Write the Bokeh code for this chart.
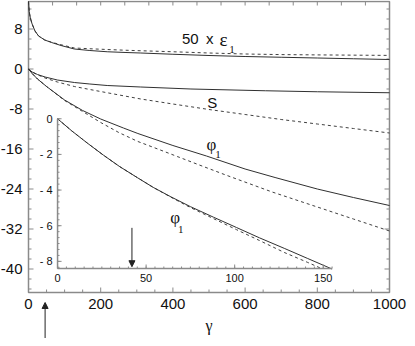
import numpy as np
from bokeh.plotting import figure
from bokeh.models import Range1d, Label, Arrow, NormalHead
from bokeh.embed import file_html
from bokeh.resources import INLINE
from bokeh.core.properties import value

# ---------------- data ----------------
# 50 x epsilon_1
eps_g_solid = [0, 2, 5, 10, 18, 28, 45, 64, 90, 127, 170, 218, 270, 311, 400, 500, 600, 700, 800, 900, 1000]
eps_solid = [13.5, 11.5, 10.2, 9.0, 7.6, 6.6, 5.8, 5.3, 4.7, 4.0, 3.7, 3.45, 3.3, 3.2, 2.95, 2.7, 2.5, 2.35, 2.2, 2.05, 1.9]
eps_g_dash = [0, 2, 5, 10, 18, 28, 45, 64, 90, 127, 170, 218, 270, 311, 400, 500, 600, 700, 800, 900, 1000]
eps_dash = [13.5, 11.5, 10.2, 9.0, 7.6, 6.6, 5.8, 5.35, 4.85, 4.2, 4.05, 3.9, 3.75, 3.65, 3.45, 3.2, 3.0, 2.88, 2.82, 2.77, 2.72]

# S
s_g_solid = [0, 5, 10, 25, 46, 80, 127, 170, 218, 311, 450, 656, 800, 1000]
s_solid = [0, -0.3, -0.6, -1.1, -1.6, -2.2, -2.7, -3.0, -3.3, -3.6, -4.0, -4.35, -4.55, -4.75]
s_g_dash = [0, 5, 10, 25, 46, 80, 127, 170, 218, 311, 400, 500, 600, 700, 800, 900, 1000]
s_dash = [0, -0.3, -0.6, -1.15, -1.8, -2.6, -3.5, -4.1, -4.75, -6.0, -7.0, -8.1, -9.1, -10.1, -11.0, -11.9, -12.8]

# phi_1 (main)
phi_g_solid = [0, 10, 25, 50, 100, 150, 200, 263, 303, 400, 493, 600, 683, 800, 900, 1000]
phi_solid = [0, -0.9, -2.0, -3.5, -6.2, -8.3, -10.0, -11.8, -12.9, -15.3, -17.4, -20.0, -21.7, -24.0, -25.7, -27.3]
phi_g_dash = [0, 10, 25, 50, 100, 150, 200, 250, 303, 358, 412, 466, 550, 675, 800, 900, 1000]
phi_dash = [0, -0.9, -2.0, -3.5, -6.3, -8.5, -10.7, -12.7, -14.5, -16.0, -17.5, -19.0, -21.3, -24.6, -27.6, -30.0, -32.4]

# phi_1 (inset)
in_g_solid = [0, 8, 17, 26, 35, 45, 54, 64, 75, 88, 101, 114, 128, 141, 155]
in_solid = [0, -0.68, -1.38, -2.05, -2.68, -3.3, -3.85, -4.38, -4.93, -5.52, -6.1, -6.68, -7.27, -7.83, -8.43]
in_g_dash = [0, 8, 17, 26, 35, 45, 54, 64, 75, 88, 101, 114, 128, 141, 149]
in_dash = [0, -0.68, -1.38, -2.05, -2.68, -3.3, -3.85, -4.4, -4.98, -5.6, -6.22, -6.83, -7.5, -8.05, -8.4]

# ticks
x_major = [0, 200, 400, 600, 800, 1000]
x_labels = ["0", "200", "400", "600", "800", "1000"]
y_major = [8, 0, -8, -16, -24, -32, -40]
y_labels = ["8", "0", "-8", "-16", "-24", "-32", "-40"]
in_x_major = [0, 50, 100, 150]
in_x_labels = ["0", "50", "100", "150"]
in_y_major = [0, -2, -4, -6, -8]
in_y_labels = ["0", "- 2", "- 4", "- 6", "- 8"]

arrow_gamma_main = 46
arrow_gamma_inset = 42

# ---------------- layout ----------------
W, H = 407, 338
FL, FR, FT, FB = 28, 389, 1, 292          # pixel box of the main axes
X0, X1 = 0, 1000
Y0, Y1 = -44.7, 13.5
IN_X = (0, 155)
IN_Y = (-8.4, 0)
IN_MAIN_X = (80.5, 841.0)                  # inset box in main-data coordinates
IN_MAIN_Y = (-39.9, -9.95)

kx = (FR - FL) / (X1 - X0)
ky = (FB - FT) / (Y1 - Y0)
XR = (X0 - FL / kx, X1 + (W - FR) / kx)
YR = (Y0 - (H - FB) / ky, Y1 + FT / ky)

p = figure(width=W, height=H, output_backend="svg", toolbar_location=None,
           x_range=Range1d(*XR), y_range=Range1d(*YR),
           x_axis_location=None, y_axis_location=None, min_border=0)
p.grid.visible = False
p.outline_line_color = None
p.background_fill_color = "white"
p.border_fill_color = "white"

bx = (IN_MAIN_X[1] - IN_MAIN_X[0]) / (IN_X[1] - IN_X[0])
by = (IN_MAIN_Y[1] - IN_MAIN_Y[0]) / (IN_Y[1] - IN_Y[0])
p.extra_x_ranges = {"inset": Range1d(IN_X[0] + (XR[0] - IN_MAIN_X[0]) / bx,
                                     IN_X[0] + (XR[1] - IN_MAIN_X[0]) / bx)}
p.extra_y_ranges = {"inset": Range1d(IN_Y[0] + (YR[0] - IN_MAIN_Y[0]) / by,
                                     IN_Y[0] + (YR[1] - IN_MAIN_Y[0]) / by)}

AX = "#8a8a8a"
INK = "#111111"
FONT = "Liberation Sans"
SERIF = "Liberation Serif"
SOLID = "#303030"
DASH = "#404040"

# ---- main axes box, ticks and labels ----
p.quad(left=[X0], right=[X1], bottom=[Y0], top=[Y1], fill_color=None,
       line_color=AX, line_width=1.5)

x_minor = [v for v in np.arange(X0, X1 + 1, 50) if v not in x_major]
x_top = list(np.arange(X0, X1 + 1, 200 / 3))
y_minor = [v for v in np.arange(-44, Y1, 2) if v not in y_major]


def ticks(xs, ys, length, angle, **kw):
    p.ray(x=xs, y=ys, length=length, angle=angle, length_units="screen",
          line_color=AX, line_width=1, **kw)


ticks(x_major, [Y0] * len(x_major), 5, np.pi / 2)
ticks(x_minor, [Y0] * len(x_minor), 3, np.pi / 2)
ticks(x_top, [Y1] * len(x_top), 4, -np.pi / 2)
ticks([X0] * len(y_major), y_major, 5, 0)
ticks([X0] * len(y_minor), y_minor, 3, 0)
ticks([X1] * len(y_major), y_major, 5, np.pi)
ticks([X1] * len(y_minor), y_minor, 3, np.pi)

p.text(x=x_major, y=[Y0] * len(x_major), text=x_labels, text_align="center",
       text_baseline="top", y_offset=6, text_font=value(FONT), text_font_size="15px",
       text_color=INK)
p.text(x=[X0] * len(y_major), y=y_major, text=y_labels, text_align="right",
       text_baseline="middle", x_offset=-6, text_font=value(FONT), text_font_size="15px",
       text_color=INK)
p.text(x=[(X0 + X1) / 2], y=[Y0], text=["γ"], text_align="center",
       text_baseline="alphabetic", y_offset=33, text_font=value(SERIF),
       text_font_size="16px", text_color=INK)

# ---- main curves ----
p.line(eps_g_dash, eps_dash, line_color=DASH, line_width=1, line_dash="3 3")
p.line(eps_g_solid, eps_solid, line_color=SOLID, line_width=1)
p.line(s_g_dash, s_dash, line_color=DASH, line_width=1, line_dash="3 3")
p.line(s_g_solid, s_solid, line_color=SOLID, line_width=1)
p.line(phi_g_dash, phi_dash, line_color=DASH, line_width=1, line_dash="3 3")
p.line(phi_g_solid, phi_solid, line_color=SOLID, line_width=1)

# ---- inset ----
ins = dict(x_range_name="inset", y_range_name="inset")
p.line(in_g_dash, in_dash, line_color=DASH, line_width=1, line_dash="3 3", **ins)
p.line(in_g_solid, in_solid, line_color=SOLID, line_width=1, **ins)
p.line([IN_X[0], IN_X[1]], [IN_Y[0], IN_Y[0]], line_color=AX, line_width=1.5, **ins)
p.line([IN_X[0], IN_X[0]], [IN_Y[0], IN_Y[1]], line_color=AX, line_width=1.5, **ins)
in_x_minor = [v for v in np.arange(0, 155.1, 5)]
in_y_minor = [v for v in np.arange(0, -8.41, -1 / 3)]
ticks(in_x_minor, [IN_Y[0]] * len(in_x_minor), 2, np.pi / 2, **ins)
ticks(in_x_major, [IN_Y[0]] * len(in_x_major), 4, np.pi / 2, **ins)
ticks([IN_X[0]] * len(in_y_minor), in_y_minor, 2, 0, **ins)
ticks([IN_X[0]] * len(in_y_major), in_y_major, 4, 0, **ins)
p.text(x=in_x_major, y=[IN_Y[0]] * len(in_x_major), text=in_x_labels, text_align="center",
       text_baseline="top", y_offset=5, text_font=value(FONT), text_font_size="11px",
       text_color=INK, **ins)
p.text(x=[IN_X[0]] * len(in_y_major), y=in_y_major, text=in_y_labels, text_align="right",
       text_baseline="middle", x_offset=-5, text_font=value(FONT), text_font_size="11px",
       text_color=INK, **ins)

# ---- curve labels ----
def lab(x, y, t, font, size, align="center", **kw):
    p.add_layout(Label(x=x, y=y, text=t, text_font=font, text_font_size=size,
                       text_baseline="middle", text_align=align, text_color=INK, **kw))


lab(425, 6.2, "50\u2002x", FONT, "15px", align="left")
lab(540, 6.0, "ε", SERIF, "19px")
lab(564, 4.0, "1", SERIF, "11px")
lab(509, -6.6, "S", FONT, "15px")
lab(507, -15.0, "φ", SERIF, "17px")
lab(525, -17.1, "1", SERIF, "11px")
lab(66.4, -5.56, "φ", SERIF, "17px", **ins)
lab(69.5, -6.2, "1", SERIF, "11px", **ins)

# ---- arrows ----
head = dict(fill_color="#222222", line_color="#222222")
p.add_layout(Arrow(x_start=arrow_gamma_main, y_start=YR[0], x_end=arrow_gamma_main, y_end=-46.7,
                   line_color="#222222", line_width=1, end=NormalHead(size=6, **head)))
p.add_layout(Arrow(x_start=arrow_gamma_inset, y_start=-6.12, x_end=arrow_gamma_inset, y_end=-8.3,
                   line_color="#222222", line_width=1, end=NormalHead(size=6, **head), **ins))

open("out.html", "w").write(file_html(p, INLINE))
